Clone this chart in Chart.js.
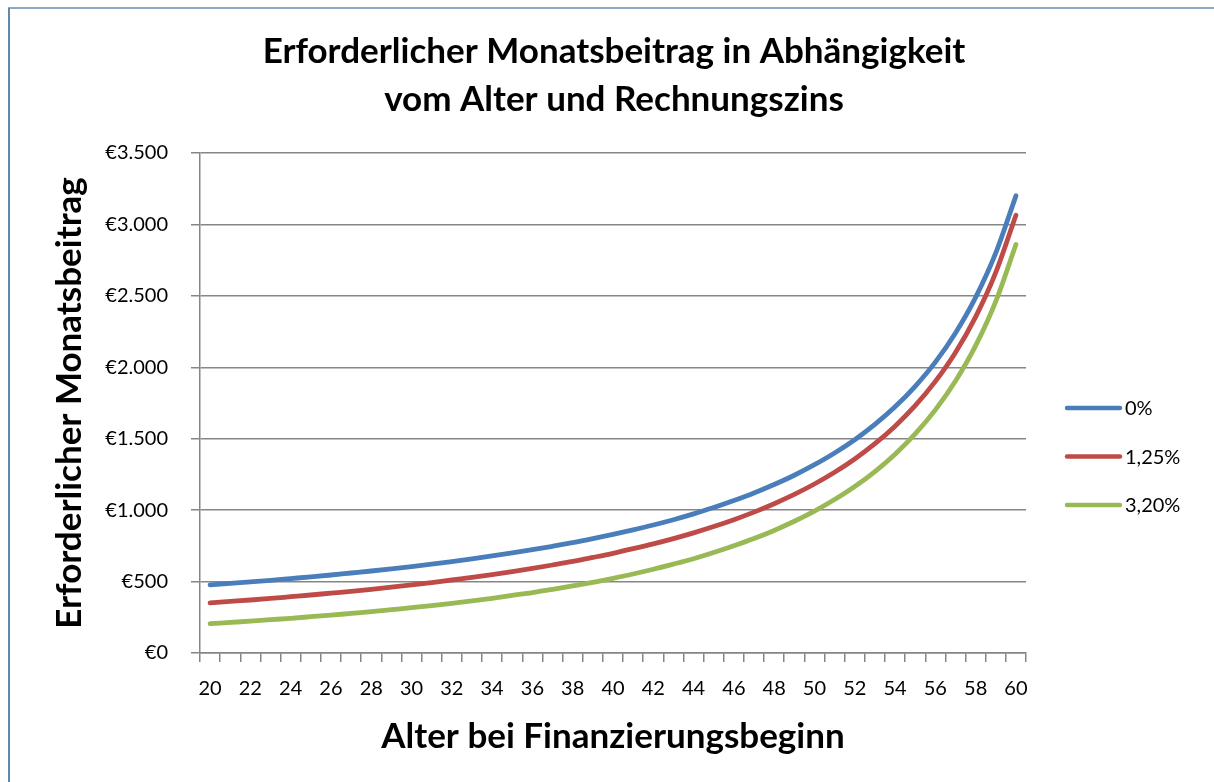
<!DOCTYPE html>
<html lang="de">
<head>
<meta charset="utf-8">
<title>Erforderlicher Monatsbeitrag</title>
<script src="https://cdn.jsdelivr.net/npm/chart.js@4.4.1/dist/chart.umd.min.js"></script>
<style>
  html, body { margin: 0; padding: 0; background: #ffffff; }
  #wrap { width: 1214px; height: 782px; }
</style>
</head>
<body>
<div id="wrap"><canvas id="chart" width="1214" height="782"></canvas></div>
<script>
// Alter bei Finanzierungsbeginn (x axis)
const ages = [];
for (let a = 20; a <= 60; a++) ages.push(a);

// Series values (EUR per month)
const labels = ['0%', '1,25%', '3,20%'];
const colors = ['#4A7EBB', '#BE4B48', '#98B954'];

const zins0 = [477, 487, 498, 509, 521, 533, 546, 560, 574, 589, 605, 622, 640, 659, 679, 700, 723, 747, 772, 800,
  830, 862, 896, 933, 974, 1018, 1067, 1120, 1179, 1244, 1318, 1400, 1493, 1600, 1723, 1867, 2036, 2240, 2489, 2800, 3200];
const zins125 = [351, 361, 371, 382, 394, 406, 419, 432, 446, 461, 477, 493, 511, 529, 549, 570, 592, 616, 641, 669,
  698, 730, 764, 801, 841, 885, 933, 986, 1045, 1110, 1183, 1265, 1358, 1465, 1588, 1731, 1901, 2104, 2353, 2664, 3064];
const zins320 = [205, 214, 223, 233, 243, 254, 265, 277, 289, 303, 317, 332, 348, 365, 383, 403, 423, 446, 470, 495,
  523, 553, 586, 622, 660, 703, 750, 801, 858, 922, 993, 1074, 1165, 1270, 1392, 1534, 1702, 1904, 2151, 2461, 2859];

const FONT = 'Lato, "Open Sans", sans-serif';
const GRID = '#868686';

// outer frame (only top + left visible in the original)
const framePlugin = {
  id: 'frame',
  afterDraw(chart) {
    const ctx = chart.ctx;
    ctx.save();
    ctx.lineWidth = 2;
    ctx.strokeStyle = '#8CA8C2';
    ctx.beginPath();
    ctx.moveTo(8, 8);
    ctx.lineTo(chart.width, 8);
    ctx.stroke();
    ctx.strokeStyle = '#5E89AB';
    ctx.beginPath();
    ctx.moveTo(9, 8);
    ctx.lineTo(9, chart.height);
    ctx.stroke();
    ctx.restore();
  }
};

// legend on the right, drawn by hand
const legendPlugin = {
  id: 'sideLegend',
  afterDraw(chart) {
    const ctx = chart.ctx;
    ctx.save();
    ctx.font = '20px ' + FONT;
    ctx.textBaseline = 'middle';
    ctx.textAlign = 'left';
    chart.data.datasets.forEach((ds, i) => {
      const y = 408 + i * 48.5;
      ctx.strokeStyle = ds.borderColor;
      ctx.lineWidth = 4.5;
      ctx.lineCap = 'round';
      ctx.beginPath();
      ctx.moveTo(1067, y);
      ctx.lineTo(1120, y);
      ctx.stroke();
      ctx.fillStyle = '#000000';
      ctx.fillText(ds.label, 1125, y + 1);
    });
    ctx.restore();
  }
};

const series = [zins0, zins125, zins320];

new Chart(document.getElementById('chart'), {
  type: 'line',
  data: {
    labels: ages,
    datasets: series.map((d, i) => ({
      label: labels[i],
      data: d,
      borderColor: colors[i],
      backgroundColor: colors[i],
      borderWidth: 4.8,
      borderCapStyle: 'round',
      borderJoinStyle: 'round',
      pointRadius: 0,
      cubicInterpolationMode: 'monotone',
      fill: false
    }))
  },
  options: {
    responsive: false,
    animation: false,
    devicePixelRatio: 1,
    layout: { padding: { left: 14, right: 0, top: 0, bottom: 0 } },
    plugins: {
      legend: { display: false },
      tooltip: { enabled: false },
      title: {
        display: true,
        text: ['Erforderlicher Monatsbeitrag in Abhängigkeit', 'vom Alter und Rechnungszins'],
        color: '#000000',
        font: { family: FONT, size: 35, weight: 'bold', lineHeight: 1.371 },
        padding: { top: 28, bottom: 29 }
      }
    },
    scales: {
      x: {
        type: 'category',
        offset: true,
        grid: {
          offset: true,
          drawOnChartArea: false,
          drawTicks: true,
          tickLength: 9,
          color: GRID,
          lineWidth: 1.5
        },
        border: { color: GRID, width: 1.5 },
        ticks: {
          autoSkip: false,
          maxRotation: 0,
          minRotation: 0,
          padding: 15,
          color: '#000000',
          font: { family: FONT, size: 20 },
          callback: (v, i) => (i % 2 === 0 ? String(ages[i]) : '')
        },
        title: {
          display: true,
          text: 'Alter bei Finanzierungsbeginn',
          color: '#000000',
          font: { family: FONT, size: 35, weight: 'bold', lineHeight: 1.2 },
          padding: { top: 0, bottom: 24 }
        },
        afterFit(scale) { scale.height = 129; }
      },
      y: {
        min: 0,
        max: 3500,
        grid: {
          color: GRID,
          lineWidth: 1.5,
          drawTicks: true,
          tickLength: 9
        },
        border: { color: GRID, width: 1.5 },
        ticks: {
          stepSize: 500,
          padding: 23,
          color: '#000000',
          font: { family: FONT, size: 20 },
          callback: v => '€' + v.toLocaleString('de-DE')
        },
        title: {
          display: true,
          text: 'Erforderlicher Monatsbeitrag',
          color: '#000000',
          font: { family: FONT, size: 35, weight: 'bold', lineHeight: 1.2 },
          padding: { top: 35, bottom: 0 }
        },
        afterFit(scale) { scale.width = 186; }
      },
      // empty axis that only reserves the space on the right where the legend sits
      legendSpace: {
        type: 'linear',
        position: 'right',
        display: true,
        grid: { display: false, drawTicks: false },
        border: { display: false },
        ticks: { display: false },
        afterFit(scale) { scale.width = 188; }
      }
    }
  },
  plugins: [framePlugin, legendPlugin]
});
</script>
</body>
</html>
